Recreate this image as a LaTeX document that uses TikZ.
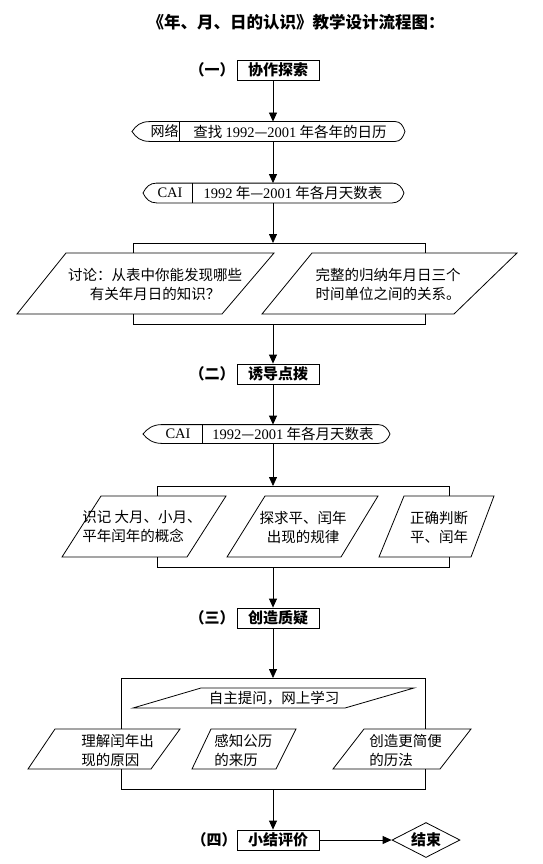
\documentclass[tikz,border=0pt]{standalone}
\usepackage{fontspec}
\setmainfont{Noto Sans CJK SC}
\newfontfamily\latf{Liberation Serif}
\usetikzlibrary{arrows.meta,shapes.geometric}
\begin{document}
\begin{tikzpicture}[x=1pt,y=-1pt,
  line width=0.8pt,
  every node/.style={font=\fontsize{14.5pt}{19pt}\selectfont, inner sep=0pt},
  arr/.style={-{Triangle[length=9pt,width=8pt]}},
  headbox/.style={draw, minimum width=82pt, minimum height=20pt, font=\fontsize{15pt}{19pt}\selectfont\bfseries},
  headlbl/.style={font=\fontsize{15pt}{19pt}\selectfont\bfseries},
  cell/.style={inner sep=0pt},
  ptext/.style={align=center},
  ltext/.style={align=left, anchor=west},
]
\useasboundingbox (0,0) rectangle (543,864);
\fill[white] (0,0) rectangle (543,864);

\node[font=\fontsize{16.5pt}{20pt}\selectfont\bfseries] (title) at (296,22) {《年、月、日的认识》教学设计流程图：};

\coordinate (ax) at (273,0);

% ---------- stage 1
\node[headlbl] (l1) at (212,70) {（一）};
\node[headbox] (b1) at (278,70) {协作探索};

% capsule 1
\node[cell, minimum width=245pt, minimum height=19pt] (r1) at (272.5,131.5) {};
\coordinate (e1L) at (132,131.5);
\coordinate (e1R) at (405,131.5);
\draw (r1.north west) -- (r1.north east)
  .. controls +(5,0) and +(-2,-6) .. (e1R)
  .. controls +(-2,6) and +(5,0) .. (r1.south east) -- (r1.south west)
  .. controls +(-9,0) and +(4,6) .. (e1L)
  .. controls +(4,-6) and +(-9,0) .. cycle;
\coordinate (d1) at (179,131.5);
\draw (d1 |- r1.north) -- (d1 |- r1.south);
\node[font=\fontsize{14pt}{19pt}\selectfont] (t1a) at (164.5,131.5) {网络};
\node (t1b) at (290,131.5) {查找 {\latf 1992}—{\latf 2001} 年各年的日历};

% capsule 2
\node[cell, minimum width=235pt, minimum height=19pt] (r2) at (274.5,193) {};
\coordinate (e2L) at (143,193);
\coordinate (e2R) at (404,193);
\draw (r2.north west) -- (r2.north east)
  .. controls +(6,0) and +(-2,-6) .. (e2R)
  .. controls +(-2,6) and +(6,0) .. (r2.south east) -- (r2.south west)
  .. controls +(-7,0) and +(3,6) .. (e2L)
  .. controls +(3,-6) and +(-7,0) .. cycle;
\coordinate (d2) at (192,193);
\draw (d2 |- r2.north) -- (d2 |- r2.south);
\node (t2a) at (170,193) {\latf CAI};
\node (t2b) at (293,193) {{\latf 1992} 年—{\latf 2001} 年各月天数表};

\draw[arr] (b1.south -| ax) -- (r1.north -| ax);
\draw[arr] (r1.south -| ax) -- (r2.north -| ax);

% bracket 1 and parallelograms
\coordinate (k1L) at (133,243);
\coordinate (k1R) at (425,243);
\coordinate (k1Lb) at (133,324);
\coordinate (k1Rb) at (425,324);
\draw[arr] (r2.south -| ax) -- (k1L -| ax);
\draw (133,253) -- (k1L) -- (k1R) -- (425,253);
\draw (133,314) -- (k1Lb) -- (k1Rb) -- (425,314);

\draw (66,253) -- (274,253) -- (222,314) -- (17,314) -- cycle;
\draw (312,253) -- (517,253) -- (454,314) -- (262,314) -- cycle;
\node[ptext] (p1a) at (155,284) {讨论：从表中你能发现哪些\\有关年月日的知识？};
\node[ptext] (p1b) at (388,284) {完整的归纳年月日三个\\时间单位之间的关系。};

% ---------- stage 2
\node[headlbl] (l2) at (212,374) {（二）};
\node[headbox] (b2) at (278,374) {诱导点拨};
\draw[arr] (k1Lb -| ax) -- (b2.north -| ax);

\node[cell, minimum width=216pt, minimum height=18pt] (r3) at (270,434) {};
\coordinate (e3L) at (143,434);
\coordinate (e3R) at (390,434);
\draw (r3.north west) -- (r3.north east)
  .. controls +(6,0) and +(-2,-5) .. (e3R)
  .. controls +(-2,5) and +(6,0) .. (r3.south east) -- (r3.south west)
  .. controls +(-9,0) and +(4,5) .. (e3L)
  .. controls +(4,-5) and +(-9,0) .. cycle;
\coordinate (d3) at (202,434);
\draw (d3 |- r3.north) -- (d3 |- r3.south);
\node (t3a) at (178,434) {\latf CAI};
\node (t3b) at (293,434) {{\latf 1992}—{\latf 2001} 年各月天数表};
\draw[arr] (b2.south -| ax) -- (r3.north -| ax);

\coordinate (k2L) at (157,486);
\coordinate (k2R) at (449,486);
\coordinate (k2Lb) at (157,567);
\coordinate (k2Rb) at (449,567);
\draw[arr] (r3.south -| ax) -- (k2L -| ax);
\draw (157,496) -- (k2L) -- (k2R) -- (449,496);
\draw (157,557) -- (k2Lb) -- (k2Rb) -- (449,557);

\draw (101,496) -- (226,496) -- (187,557) -- (62,557) -- cycle;
\draw (265,496) -- (378,496) -- (341,557) -- (227,557) -- cycle;
\draw (404,496) -- (494,496) -- (471,557) -- (379,557) -- cycle;
\node[ltext] (p2a) at (82,527) {识记 大月、小月、\\平年闰年的概念};
\node[ptext] (p2b) at (303,527) {探求平、闰年\\出现的规律};
\node[ptext] (p2c) at (439,527) {正确判断\\平、闰年};

% ---------- stage 3
\node[headlbl] (l3) at (212,618) {（三）};
\node[headbox] (b3) at (278,618) {创造质疑};
\draw[arr] (k2Lb -| ax) -- (b3.north -| ax);

\coordinate (k3L) at (121,678);
\coordinate (k3R) at (425,678);
\coordinate (k3Lb) at (121,789);
\coordinate (k3Rb) at (425,789);
\draw[arr] (b3.south -| ax) -- (k3L -| ax);
\draw (121,729) -- (k3L) -- (k3R) -- (425,729);
\draw (121,769) -- (k3Lb) -- (k3Rb) -- (425,769);

\draw (201,688) -- (414,688) -- (345,708) -- (133,708) -- cycle;
\node (p3) at (274,698) {自主提问，网上学习};

\draw (55,729) -- (180,729) -- (151,769) -- (28,769) -- cycle;
\draw (211,729) -- (296,729) -- (276,769) -- (192,769) -- cycle;
\draw (364,729) -- (471,729) -- (440,769) -- (333,769) -- cycle;
\node[ltext] (p3a) at (81,750) {理解闰年出\\现的原因};
\node[ltext] (p3b) at (214,750) {感知公历\\的来历};
\node[ltext] (p3c) at (369,750) {创造更简便\\的历法};

% ---------- stage 4
\node[headlbl] (l4) at (214,840) {（四）};
\node[headbox] (b4) at (278,840) {小结评价};
\draw[arr] (k3Lb -| ax) -- (b4.north -| ax);

\node[draw, diamond, aspect=1.94, minimum width=68pt, minimum height=35pt, inner sep=0pt,
      font=\fontsize{15pt}{19pt}\selectfont\bfseries] (end) at (426,840) {结束};
\draw[arr] (b4.east) -- (end.west);
\end{tikzpicture}
\end{document}
